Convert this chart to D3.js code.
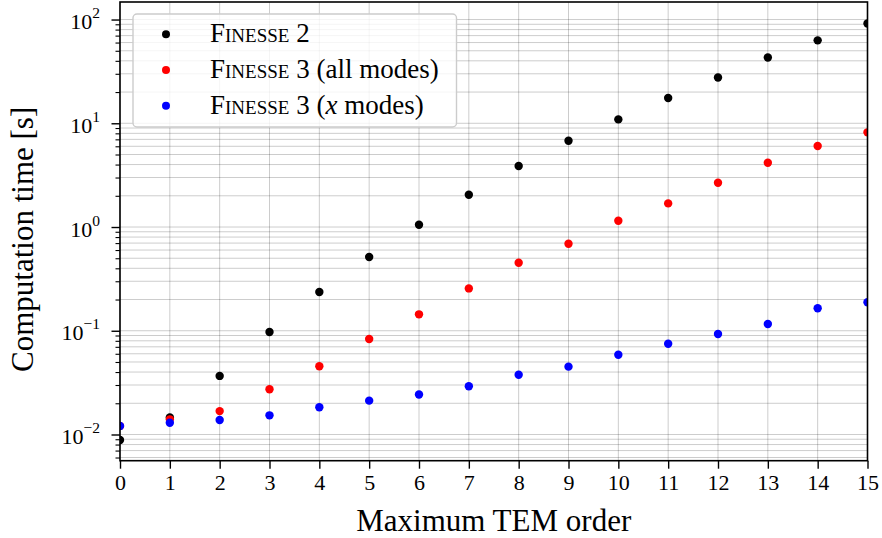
<!DOCTYPE html>
<html>
<head>
<meta charset="utf-8">
<script src="https://cdn.jsdelivr.net/npm/d3@7"></script>
<style>
  body { margin: 0; background: #fff; }
  svg { display: block; font-family: "Liberation Serif", "Times New Roman", serif; }
</style>
</head>
<body>
<script>
// data
const orders = [0, 1, 2, 3, 4, 5, 6, 7, 8, 9, 10, 11, 12, 13, 14, 15]
const finesse2 = [0.00885, 0.0146, 0.0367, 0.0973, 0.236, 0.514, 1.05, 2.05, 3.87, 6.79, 10.9, 17.5, 27.6, 43.0, 63.0, 91.6]
const finesse3All = [0.0121, 0.0140, 0.0168, 0.0273, 0.0455, 0.0832, 0.144, 0.256, 0.453, 0.690, 1.15, 1.69, 2.67, 4.17, 6.04, 8.18]
const finesse3X = [0.0121, 0.0130, 0.0138, 0.0153, 0.0183, 0.0212, 0.0243, 0.0292, 0.0377, 0.0451, 0.0587, 0.0750, 0.0930, 0.116, 0.165, 0.188]
const seriesNames = ['Finesse 2', 'Finesse 3 (all modes)', 'Finesse 3 (x modes)']
const seriesColors = ['#000000', '#ff0000', '#0000ff']
const yMajor = [0.01, 0.1, 1, 10, 100]
const yExponents = ['\u22122', '\u22121', '0', '1', '2']

const W = 882, H = 538
const plotLeft = 120, plotRight = 867.5, plotTop = 2, plotBottom = 460.7

const x = d3.scaleLinear().domain([0, 15]).range([plotLeft, plotRight])
const y = d3.scaleLog().domain([0.00559, 147.6]).range([plotBottom, plotTop])

// minor ticks 2..9 for every decade that is inside the domain
const yMinor = []
for (let e = -3; e <= 2; e++) {
  for (let m = 2; m <= 9; m++) {
    const v = m * Math.pow(10, e)
    if (v >= y.domain()[0] && v <= y.domain()[1]) yMinor.push(v)
  }
}

const svg = d3.select('body').append('svg')
  .attr('width', W)
  .attr('height', H)

svg.append('defs').append('clipPath')
  .attr('id', 'plotclip')
  .append('rect')
  .attr('x', plotLeft).attr('y', plotTop)
  .attr('width', plotRight - plotLeft).attr('height', plotBottom - plotTop)

// grid
const grid = svg.append('g').attr('id', 'grid')
  .attr('stroke', '#000').attr('stroke-opacity', 0.2).attr('stroke-width', 1)
grid.selectAll('line.gx')
  .data(orders)
  .enter().append('line')
  .attr('class', 'gx')
  .attr('x1', d => x(d)).attr('x2', d => x(d))
  .attr('y1', plotTop).attr('y2', plotBottom)
grid.selectAll('line.gy')
  .data(yMajor.concat(yMinor))
  .enter().append('line')
  .attr('class', 'gy')
  .attr('x1', plotLeft).attr('x2', plotRight)
  .attr('y1', d => y(d)).attr('y2', d => y(d))

// points
const allSeries = [finesse2, finesse3All, finesse3X]
const pts = svg.append('g').attr('id', 'points').attr('clip-path', 'url(#plotclip)')
allSeries.forEach((vals, k) => {
  pts.selectAll('circle.s' + k)
    .data(vals)
    .enter().append('circle')
    .attr('class', 's' + k)
    .attr('cx', (d, i) => x(orders[i]))
    .attr('cy', d => y(d))
    .attr('r', 4.2)
    .attr('fill', seriesColors[k])
})

// axes
const xAxis = svg.append('g')
  .attr('transform', `translate(0,${plotBottom})`)
  .call(d3.axisBottom(x).tickValues(orders).tickSize(8).tickPadding(6).tickFormat(d3.format('d')))
xAxis.select('.domain').remove()
xAxis.selectAll('.tick line').attr('stroke', '#000').attr('stroke-width', 1.4)
xAxis.selectAll('.tick text')
  .attr('font-size', '22px')
  .attr('font-family', '"Liberation Serif", serif')
  .attr('fill', '#000')

const yAxis = svg.append('g')
  .attr('transform', `translate(${plotLeft},0)`)
  .call(d3.axisLeft(y).tickValues(yMajor).tickSize(8.5).tickFormat(''))
yAxis.select('.domain').remove()
yAxis.selectAll('.tick line').attr('stroke', '#000').attr('stroke-width', 1.4)

const yMinorAxis = svg.append('g')
  .attr('transform', `translate(${plotLeft},0)`)
  .call(d3.axisLeft(y).tickValues(yMinor).tickSize(4.5).tickFormat(''))
yMinorAxis.select('.domain').remove()
yMinorAxis.selectAll('.tick line').attr('stroke', '#000').attr('stroke-width', 1.1)

// y tick labels as 10^n
const yLabels = svg.append('g').attr('id', 'ylabels')
yMajor.forEach((v, i) => {
  const t = yLabels.append('text')
    .attr('x', 100)
    .attr('y', y(v) + 9.5)
    .attr('text-anchor', 'end')
    .attr('font-size', '22px')
    .attr('fill', '#000')
  t.append('tspan').text('10')
  t.append('tspan')
    .attr('dy', -11)
    .attr('font-size', '15.5px')
    .text(yExponents[i])
})

// frame
svg.append('rect')
  .attr('x', plotLeft).attr('y', plotTop)
  .attr('width', plotRight - plotLeft).attr('height', plotBottom - plotTop)
  .attr('fill', 'none')
  .attr('stroke', '#000')
  .attr('stroke-width', 1.6)

// axis titles
svg.append('text')
  .attr('x', (plotLeft + plotRight) / 2)
  .attr('y', 531)
  .attr('text-anchor', 'middle')
  .attr('font-size', '31px')
  .text('Maximum TEM order')

svg.append('text')
  .attr('transform', `translate(33,${(plotTop + plotBottom) / 2 + 8}) rotate(-90)`)
  .attr('text-anchor', 'middle')
  .attr('font-size', '31px')
  .text('Computation time [s]')

// legend
const legend = svg.append('g').attr('id', 'legend')
legend.append('rect')
  .attr('x', 133).attr('y', 14)
  .attr('width', 323.5).attr('height', 113)
  .attr('rx', 4)
  .attr('fill', '#fff').attr('fill-opacity', 0.8)
  .attr('stroke', '#cccccc').attr('stroke-width', 1.4)

const rowY = d3.scalePoint().domain(seriesNames).range([34.3, 105.7])
seriesNames.forEach((name, k) => {
  legend.append('circle')
    .attr('cx', 166).attr('cy', rowY(name))
    .attr('r', 4)
    .attr('fill', seriesColors[k])
  const t = legend.append('text')
    .attr('x', 210)
    .attr('y', rowY(name) + 8)
    .attr('font-size', '27px')
    .attr('fill', '#000')
  t.append('tspan').attr('font-variant', 'small-caps').text('Finesse')
  if (k === 0) {
    t.append('tspan').text(' 2')
  } else if (k === 1) {
    t.append('tspan').text(' 3 (all modes)')
  } else {
    t.append('tspan').text(' 3 (')
    t.append('tspan').attr('font-style', 'italic').text('x')
    t.append('tspan').text(' modes)')
  }
})
</script>
</body>
</html>
